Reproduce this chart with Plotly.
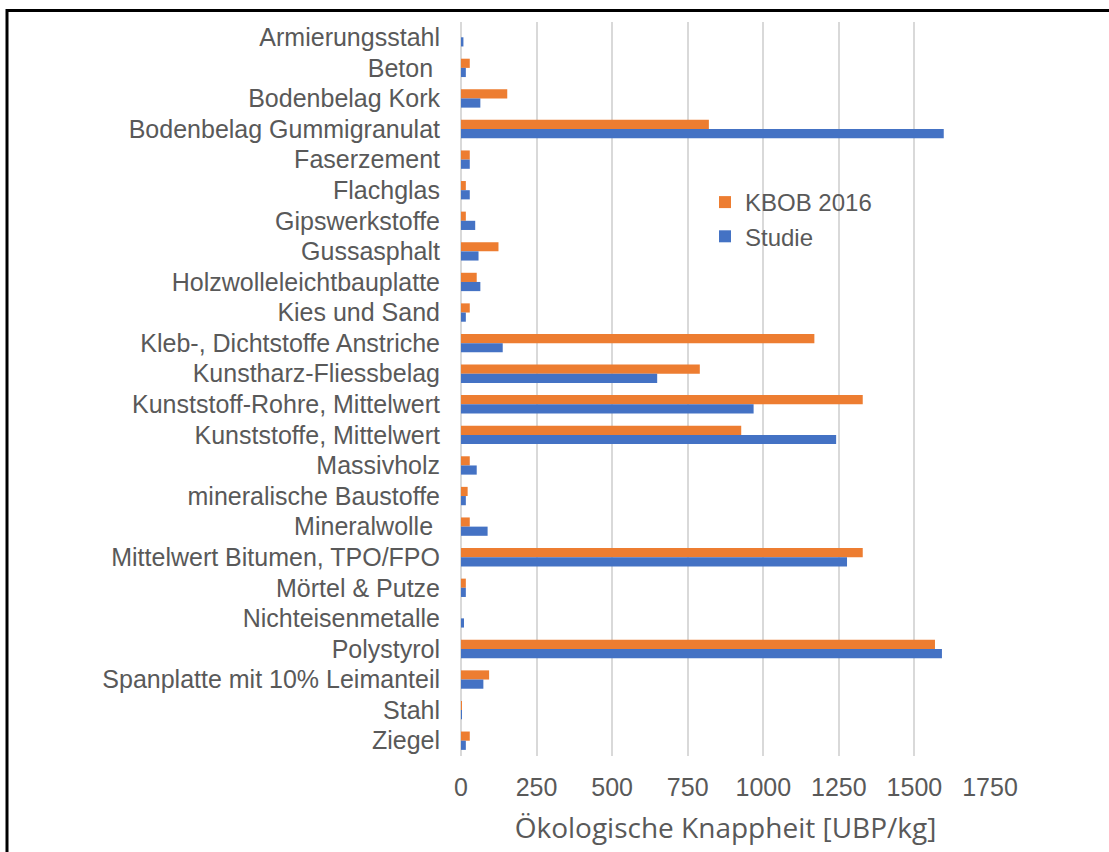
import plotly.graph_objects as go

categories = [
    "Armierungsstahl", "Beton\u00a0", "Bodenbelag Kork", "Bodenbelag Gummigranulat",
    "Faserzement", "Flachglas", "Gipswerkstoffe", "Gussasphalt",
    "Holzwolleleichtbauplatte", "Kies und Sand", "Kleb-, Dichtstoffe Anstriche",
    "Kunstharz-Fliessbelag", "Kunststoff-Rohre, Mittelwert", "Kunststoffe, Mittelwert",
    "Massivholz", "mineralische Baustoffe", "Mineralwolle\u00a0",
    "Mittelwert Bitumen, TPO/FPO", "Mörtel & Putze", "Nichteisenmetalle",
    "Polystyrol", "Spanplatte mit 10% Leimanteil", "Stahl", "Ziegel",
]
kbob_2016 = [0, 29, 153, 820, 29, 16, 16, 124, 52, 29, 1169, 790, 1329, 927,
             29, 22, 29, 1329, 16, 0, 1568, 93, 2, 29]
studie = [8, 16, 64, 1597, 29, 29, 47, 58, 64, 16, 138, 649, 968, 1241,
          52, 16, 88, 1277, 16, 10, 1591, 74, 2, 16]
x_ticks = [0, 250, 500, 750, 1000, 1250, 1500, 1750]

W, H = 1109, 852
L, R, T, B = 461, 119, 22, 96
pw, ph = W - L - R, H - T - B

fig = go.Figure()
fig.add_trace(go.Bar(y=categories, x=kbob_2016, orientation="h", name="KBOB 2016",
                     marker=dict(color="#ED7D31", line=dict(width=0))))
fig.add_trace(go.Bar(y=categories, x=studie, orientation="h", name="Studie",
                     marker=dict(color="#4472C4", line=dict(width=0))))

def px_x(p):
    return (p - L) / pw

def px_y(p):
    return (H - B - p) / ph

fig.update_layout(
    width=W, height=H,
    margin=dict(l=L, r=R, t=T, b=B, autoexpand=False),
    paper_bgcolor="white", plot_bgcolor="white",
    barmode="group", bargap=0.4, bargroupgap=0,
    font=dict(family="Liberation Sans, Arial, sans-serif", size=25, color="#595959"),
    legend=dict(x=px_x(705), y=px_y(180), xanchor="left", yanchor="top",
                bgcolor="rgba(0,0,0,0)", font=dict(size=24, color="#595959")),
    xaxis=dict(range=[0, 1750], tickvals=x_ticks, showgrid=True, gridcolor="#D9D9D9",
               gridwidth=2, zeroline=True, zerolinecolor="#D9D9D9", zerolinewidth=2,
               showline=False, ticks="", ticklabelstandoff=14,
               tickfont=dict(size=25, color="#595959"),
               title=dict(text="Ökologische Knappheit [UBP/kg]", standoff=18,
                          font=dict(family="Open Sans, sans-serif", size=28, color="#595959"))),
    yaxis=dict(autorange="reversed", showgrid=False, showline=False, ticks="",
               ticklabelstandoff=20, tickfont=dict(size=25, color="#595959")),
    shapes=[
        dict(type="line", xref="paper", yref="paper", x0=px_x(7), x1=px_x(W + 5),
             y0=px_y(10.5), y1=px_y(10.5), line=dict(color="black", width=3)),
        dict(type="line", xref="paper", yref="paper", x0=px_x(7), x1=px_x(7),
             y0=px_y(9), y1=px_y(H + 5), line=dict(color="black", width=3)),
    ],
)

fig.write_html("out.html", config={"displayModeBar": False},
               post_script="document.body.style.margin='0';")
